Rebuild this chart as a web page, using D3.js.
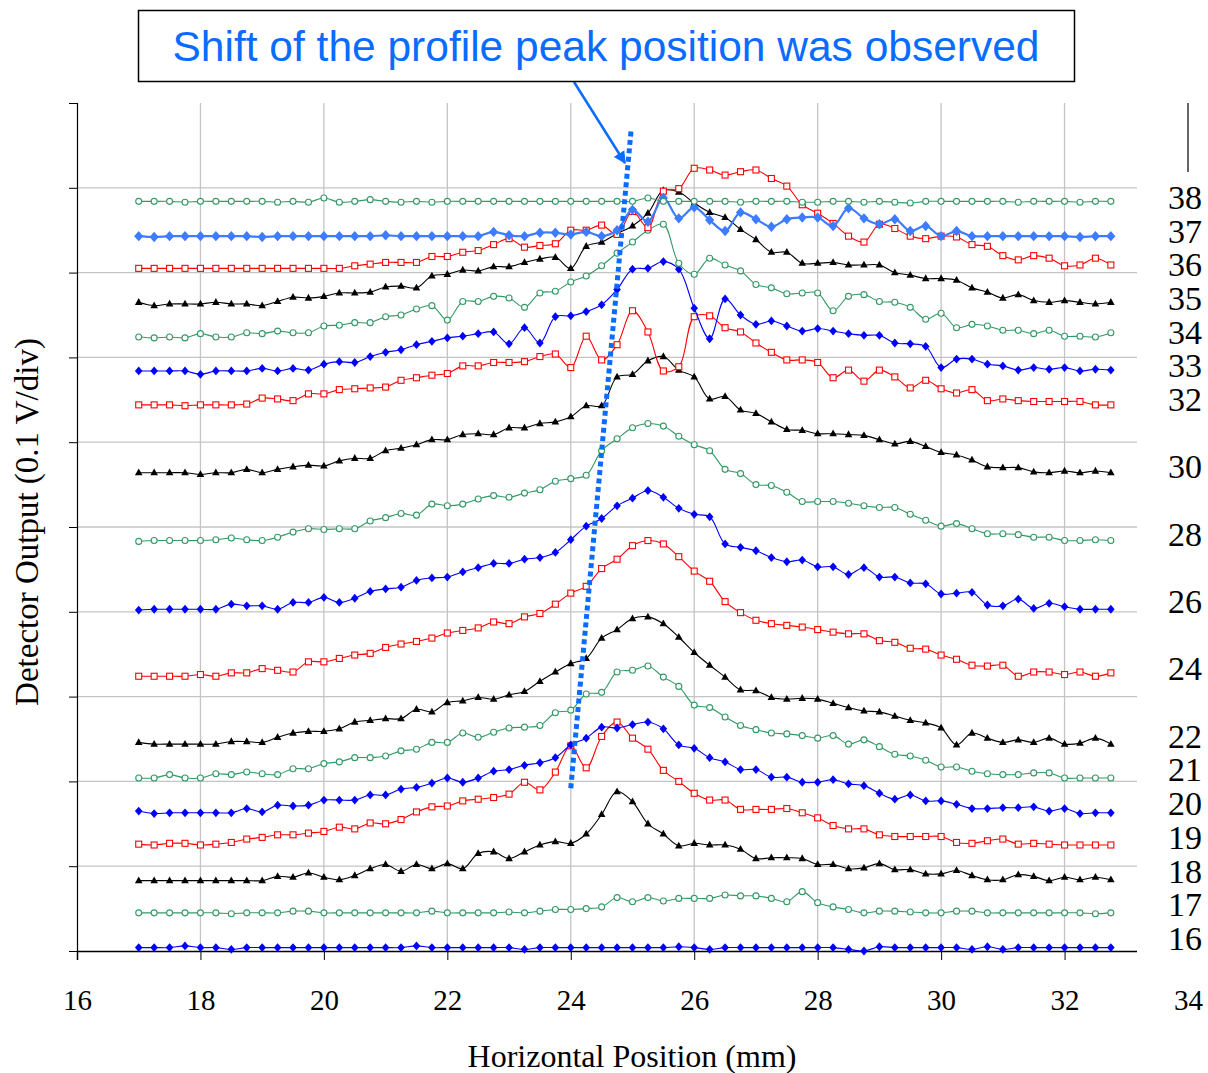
<!DOCTYPE html>
<html><head><meta charset="utf-8">
<script src="https://cdn.jsdelivr.net/npm/d3@7"></script>
<style>body{margin:0;background:#fff}</style>
</head><body>
<svg id="c" width="1208" height="1073"></svg>
<script>
// ---------------- DATA ----------------
// measurement positions (mm): 17.00 ... 32.75 in 0.25 mm steps
const positions = d3.range(64).map(i => 17 + 0.25 * i);
const xTicks = [16,18,20,22,24,26,28,30,32,34];
const yTicks = [0,100,200,300,400,500,600,700,800,900,1000]; // mV (0.1 V/div)
const profileLabels = [38,37,36,35,34,33,32,30,28,26,24,22,21,20,19,18,17,16];
// baseline offset of every profile (mV)
const offsets = {38:884,37:843,36:805,35:765,34:724,33:684,32:644,30:564,28:483,26:402,24:324,22:245,21:204,20:164,19:126,18:83,17:45,16:4};
// detector output relative to baseline (mV)
const s38 = [0,0,0,-1,0,0,0,0,0,-1,0,-1, 4,-1,0,2,0,-1,0,-1,0,0,0,0, 0,0,0,0,0,0,0,0,0,4,0,0, 0,0,0,-1,0,0,0,-1,-1,0,0,-1, 0,-1,-2,0,0,0,0,0,0,-1,0,0,0,-1,0,0];
const s37 = [0,-1,0,0,0,0,0,0,-1,0,0,0,0,0,0,0, 1,0,0,0,0,0,0,5,1,0,4,4,2,5,0,7, 31,17,45,21,34,19,6,28,20,11,20,22,22,12,33,21, 14,20,6,12,0,6,0,0,0,0,0,0,0,-1,0,0];
const s36 = [0,0,0,0,0,0,0,0,0,0,0,0,0,0,3,5, 7,7,7,14,14,19,21,28,35,25,27,29,45,45,51,40, 67,48,91,94,118,116,110,114,116,106,97,75,65,53,38,31, 52,47,38,35,38,37,28,26,15,10,15,12,3,4,12,4];
const s35 = [0,-4,-2,-2,-2,0,-2,-2,-4,1,6,5,7,11,11,12, 18,19,17,31,33,38,37,42,42,47,51,53,40,66,71,81, 90,105,132,130,117,106,100,86,74,59,59,46,46,47,44,44, 44,35,32,28,28,26,17,12,5,9,2,0,2,0,-2,0];
const s34 = [0,-1,0,-1,4,0,0,5,4,7,5,5,13,14,17,17, 24,26,33,37,20,42,42,48,46,35,52,54,65,72,84,99, 112,126,133,87,74,93,85,78,62,58,51,52,52,31,48,50, 42,41,35,21,28,11,15,13,8,8,4,8,1,1,0,5];
const s33 = [0,0,0,0,-4,0,0,0,3,0,3,1,8,11,10,17, 22,25,31,35,39,41,44,46,32,51,33,64,65,70,78,96, 120,121,129,120,74,38,85,66,55,59,53,47,50,47,44,42, 42,33,32,29,4,14,14,8,6,1,4,2,4,0,2,1];
const s32 = [0,0,0,-1,0,0,0,1,8,7,5,13,13,18,19,20, 21,29,32,35,37,46,46,50,50,51,57,60,44,81,53,71, 111,86,40,45,104,105,91,86,73,62,53,53,50,32,41,28, 41,33,20,29,19,14,18,5,7,5,4,4,4,4,0,0];
const s30 = [0,0,0,0,-2,0,0,4,0,4,7,9,8,14,17,17, 26,29,33,39,39,45,46,45,53,53,58,60,66,79,79,113, 116,132,137,121,113,87,90,74,70,60,51,50,46,46,45,44, 39,34,37,31,24,21,15,7,6,6,1,0,2,0,2,0];
const s28 = [0,1,1,1,1,2,4,2,1,5,11,15,14,15,15,24, 28,33,31,44,42,44,50,54,52,57,61,71,74,78,107,121, 134,139,136,124,114,107,85,80,67,66,58,47,47,47,45,42, 40,40,32,25,18,21,15,9,9,8,5,5,1,1,2,1];
const s26 = [0,1,1,1,1,1,7,5,5,1,9,9,15,9,14,22, 25,27,35,38,39,45,50,55,55,60,62,68,83,99,108,123, 132,141,133,120,113,110,78,74,70,62,57,59,51,51,42,50, 39,39,32,31,19,20,21,6,5,13,2,8,4,1,1,1];
const s24 = [0,0,0,0,2,0,4,4,9,7,5,17,17,21,25,27, 34,38,41,45,51,54,57,64,62,70,74,85,98,106,127,138, 154,160,156,141,124,112,88,75,66,62,60,58,55,52,50,50, 42,40,33,32,25,20,13,12,13,0,5,5,2,5,0,4];
const s22 = [1,-1,-1,-1,-1,-1,2,2,1,7,12,14,14,17,25,27, 29,29,40,37,48,50,54,52,57,61,73,84,94,100,124,134, 147,149,141,125,107,92,78,63,62,54,52,53,52,47,42,38, 37,32,27,24,18,-2,12,6,1,4,1,6,-1,0,6,-1];
const s21 = [0,0,4,0,0,5,4,7,5,4,11,11,17,19,24,24, 26,32,34,42,42,53,48,54,59,60,62,77,80,99,101,125, 127,132,119,108,86,83,72,62,57,53,52,50,47,50,40,45, 37,28,26,21,13,13,8,5,4,4,6,6,0,0,0,0];
const s20 = [1,-2,-1,-1,-1,-1,-1,4,0,8,7,8,14,14,14,20, 20,27,29,34,40,35,40,48,50,55,58,64,79,87,100,99, 103,106,98,79,75,64,59,50,50,41,41,35,35,38,33,31, 22,15,20,13,13,9,4,4,5,5,6,1,4,-2,-1,-1];
const s19 = [0,-1,1,1,-1,0,2,6,8,11,11,13,15,20,18,25, 24,29,38,44,45,51,53,55,59,73,64,85,116,90,127,144, 125,112,87,74,60,52,52,41,41,41,42,37,31,22,18,18, 11,9,9,9,9,2,1,4,6,0,1,0,-1,-1,-1,-1];
const s18 = [0,0,0,0,0,0,0,0,0,5,4,9,4,1,6,14, 19,11,19,14,20,14,32,34,26,34,42,46,44,55,78,105, 93,67,55,41,44,42,42,37,26,27,27,26,19,19,14,15, 20,13,13,8,8,12,6,1,1,7,5,0,4,1,4,1];
const s17 = [0,0,0,0,0,0,-1,0,0,0,2,2,0,0,0,0, 0,0,0,2,0,0,0,0,1,0,2,4,4,5,7,18, 13,18,14,17,17,17,21,20,20,17,13,25,12,7,4,0, 2,2,1,0,0,2,2,0,0,0,0,0,0,0,-1,0];
const s16 = [0,0,0,2,0,0,-2,0,0,0,0,0,0,0,0,0, 0,0,2,0,0,0,0,0,0,-2,0,0,0,0,0,0, 0,0,0,1,0,-2,0,0,0,0,0,0,0,0,-2,-4, 1,0,0,0,0,0,-2,1,-2,0,0,0,0,0,0,0];
const profiles = {38:s38,37:s37,36:s36,35:s35,34:s34,33:s33,32:s32,30:s30,28:s28,26:s26,24:s24,22:s22,21:s21,20:s20,19:s19,18:s18,17:s17,16:s16};
const markerOf = {38:'circle',37:'bigDiamond',36:'square',35:'triangle',34:'circle',33:'diamond',32:'square',30:'triangle',28:'circle',26:'diamond',24:'square',22:'triangle',21:'circle',20:'diamond',19:'square',18:'triangle',17:'circle',16:'diamond'};
// dotted peak-shift guide (mm, mV)
const guide = [[24.0,192],[24.98,970]];
const titleText = "Shift of the profile peak position was observed";

// ---------------- DRAW ----------------
const svg = d3.select('#c');
const x = d3.scaleLinear().domain([16,34]).range([77,1188]);
const y = d3.scaleLinear().domain([0,1000]).range([951,103]);
const colors = {circle:'#339966', bigDiamond:'#3d7bff', square:'#ff0000', triangle:'#000000', diamond:'#0000ff'};
const grid = '#c4c4c4';
const serif = 'Liberation Serif, Times New Roman, serif';

// grid
svg.append('g').selectAll('line').data(xTicks.filter(t=>t>16&&t<34)).join('line')
  .attr('x1',d=>x(d)).attr('x2',d=>x(d)).attr('y1',y(1000)).attr('y2',y(0))
  .attr('stroke',grid).attr('stroke-width',1.3);
svg.append('g').selectAll('line').data(yTicks.filter(t=>t>0&&t<1000)).join('line')
  .attr('x1',x(16)).attr('x2',x(34)).attr('y1',d=>y(d)).attr('y2',d=>y(d))
  .attr('stroke',grid).attr('stroke-width',1.3);

// axes
const xAxis = d3.axisBottom(x).tickValues(xTicks).tickSize(9).tickPadding(29).tickFormat(d3.format('d'));
const gx = svg.append('g').attr('transform',`translate(0,${y(0)})`).call(xAxis);
gx.select('.domain').attr('stroke','#000').attr('stroke-width',1.5);
gx.selectAll('text').attr('font-family',serif).attr('font-size',29).attr('fill','#000');
const yAxis = d3.axisLeft(y).tickValues(yTicks).tickSize(8).tickFormat('');
const gy = svg.append('g').attr('transform',`translate(${x(16)},0)`).call(yAxis);
gy.select('.domain').attr('stroke','#000').attr('stroke-width',1.2);
svg.append('line').attr('x1',x(34)).attr('x2',x(34)).attr('y1',y(1000)).attr('y2',y(1000)+70).attr('stroke','#000').attr('stroke-width',1.2);

// profiles
const line = d3.line().x((d,i)=>x(positions[i])).y(d=>y(d)).curve(d3.curveCatmullRom.alpha(0.5));
const drawOrder = profileLabels.slice().reverse();
drawOrder.forEach(L => {
  const m = markerOf[L];
  const col = colors[m];
  const vals = profiles[L].map(v => offsets[L] + v);
  const g = svg.append('g');
  g.append('path').attr('d', line(vals)).attr('fill','none').attr('stroke',col)
    .attr('stroke-width', m==='bigDiamond'?2.2:1.1);
  const pts = g.selectAll('g').data(vals).join('g')
    .attr('transform',(d,i)=>`translate(${x(positions[i])},${y(d)})`);
  if (m==='circle') pts.append('circle').attr('r',3).attr('fill','#fff').attr('stroke',col).attr('stroke-width',1.1);
  else if (m==='square') pts.append('rect').attr('x',-3).attr('y',-3).attr('width',6).attr('height',6).attr('fill','#fff').attr('stroke',col).attr('stroke-width',1.1);
  else if (m==='triangle') pts.append('path').attr('d','M0,-4.2L3.8,2.6L-3.8,2.6Z').attr('fill',col);
  else if (m==='diamond') pts.append('path').attr('d','M0,-4.4L3.8,0L0,4.4L-3.8,0Z').attr('fill',col);
  else pts.append('path').attr('d','M0,-5.2L4.6,0L0,5.2L-4.6,0Z').attr('fill',col);
});

// white label panel on right
svg.append('rect').attr('x',1137).attr('y',172).attr('width',71).attr('height',790).attr('fill','#fff');
const ly = d3.scaleLinear().domain([16,38]).range([938,197]);
svg.append('g').selectAll('text').data(profileLabels).join('text')
  .attr('x',1185).attr('y',d=>ly(d)).attr('dy','0.35em').attr('text-anchor','middle')
  .attr('font-family',serif).attr('font-size',34).text(d=>d);

// dotted guide
svg.append('path').attr('d', d3.line().x(d=>x(d[0])).y(d=>y(d[1]))(guide))
  .attr('stroke','#0a6cff').attr('stroke-width',5).attr('stroke-dasharray','5,3.5').attr('fill','none');

// titles
svg.append('text').attr('x',632).attr('y',1067).attr('text-anchor','middle')
  .attr('font-family',serif).attr('font-size',32).text('Horizontal Position (mm)');
svg.append('text').attr('transform','translate(38,522) rotate(-90)').attr('text-anchor','middle')
  .attr('font-family',serif).attr('font-size',33).text('Detector Output (0.1 V/div)');

// annotation box + arrow
svg.append('defs').append('marker').attr('id','ah').attr('viewBox','0 0 10 10').attr('refX',9).attr('refY',5)
  .attr('markerWidth',5).attr('markerHeight',5).attr('orient','auto')
  .append('path').attr('d','M0,0L10,5L0,10Z').attr('fill','#0a6cff');
svg.append('line').attr('x1',574).attr('y1',82).attr('x2',625).attr('y2',163)
  .attr('stroke','#0a6cff').attr('stroke-width',2.5).attr('marker-end','url(#ah)');
svg.append('rect').attr('x',138.5).attr('y',10.5).attr('width',936).attr('height',71)
  .attr('fill','#fff').attr('stroke','#000').attr('stroke-width',1.5);
svg.append('text').attr('x',606).attr('y',61).attr('text-anchor','middle')
  .attr('font-family','Liberation Sans, Arial, sans-serif').attr('font-size',42.5).attr('fill','#0a6cff').text(titleText);
</script>
</body></html>
